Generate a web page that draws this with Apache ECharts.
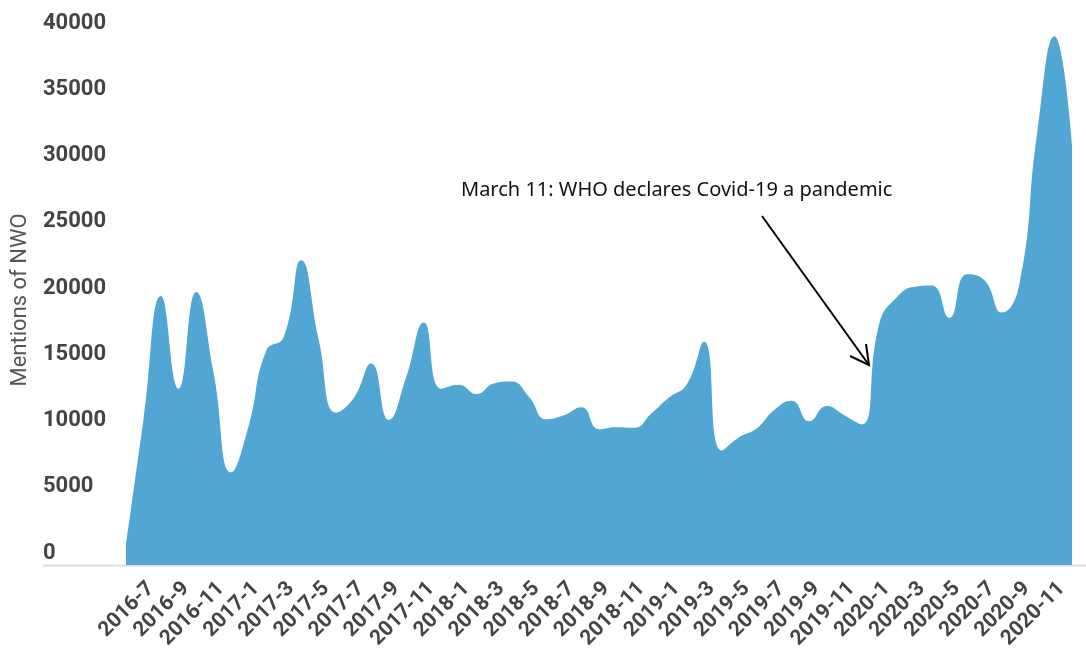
<!DOCTYPE html>
<html>
<head>
<meta charset="utf-8">
<script src="https://cdn.jsdelivr.net/npm/echarts@6/dist/echarts.min.js"></script>
<style>
  html, body { margin: 0; padding: 0; background: #fff; }
  #main { width: 1086px; height: 648px; }
</style>
</head>
<body>
<div id="main"></div>
<script>
// monthly mentions, 2016-6 .. 2020-12
var months = [];
for (var y = 2016; y <= 2020; y++) {
    for (var m = 1; m <= 12; m++) {
        if (y == 2016 && m < 6) continue;
        months.push(y + '-' + m);
    }
}
var mentions = [
    1500, 11000, 20300, 13300, 20600, 14500, 7000,              // 2016-6 .. 2016-12
    10500, 16150, 17200, 23000, 17000, 11500, 12600, 15200,     // 2017-1 .. 2017-8
    10950, 14200, 18300, 13300,                                  // 2017-9 .. 2017-12
    13600, 12900, 13700, 13850, 12700, 11000, 11300, 11900,     // 2018-1 .. 2018-8
    10250, 10400, 10350, 11450,                                  // 2018-9 .. 2018-12
    12650, 13600, 16850, 8650, 9650, 10300, 11700, 12400,       // 2019-1 .. 2019-8
    10850, 12000, 11300, 10600,                                  // 2019-9 .. 2019-12
    18200, 20200, 21000, 21100, 18650, 21950, 21500, 19050,     // 2020-1 .. 2020-8
    21200, 32500, 39900, 31800                                   // 2020-9 .. 2020-12
];
var yTicks = { min: 0, max: 40000, step: 5000 };
var note = 'March 11: WHO declares Covid-19 a pandemic';

var myChart = echarts.init(document.getElementById('main'));

var option = {
    animation: false,
    grid: { left: 126, right: 14, top: 35, bottom: 83, outerBoundsMode: 'none', containLabel: false },
    xAxis: {
        type: 'category',
        data: months,
        boundaryGap: false,
        axisLine: { show: false },
        axisTick: { show: false },
        axisLabel: {
            rotate: 45,
            margin: 13,
            verticalAlign: 'top',
            interval: function (i) { return i % 2 == 1; },
            color: '#444',
            fontFamily: 'Roboto',
            fontWeight: 'bold',
            fontSize: 21
        }
    },
    yAxis: {
        type: 'value',
        min: yTicks.min,
        max: yTicks.max,
        interval: yTicks.step,
        name: 'Mentions of NWO',
        nameLocation: 'middle',
        nameRotate: 90,
        nameGap: 95,
        nameTextStyle: { color: '#555', fontFamily: 'Roboto', fontSize: 22 },
        splitLine: { show: false },
        axisLine: { show: false },
        axisTick: { show: false },
        axisLabel: {
            align: 'left',
            verticalAlign: 'bottom',
            lineHeight: 24,
            margin: 83,
            formatter: function (v) { return String(v); },
            color: '#444',
            fontFamily: 'Roboto',
            fontWeight: 'bold',
            fontSize: 22
        }
    },
    series: [{
        type: 'line',
        data: mentions,
        smooth: true,
        symbol: 'none',
        lineStyle: { width: 0 },
        areaStyle: { color: '#52a6d3', opacity: 1 }
    }],
    graphic: [
        {
            type: 'line', z: -1,
            shape: { x1: 43, y1: 565.5, x2: 1086, y2: 565.5 },
            style: { stroke: '#ddd', lineWidth: 2 }
        },
        {
            type: 'text', left: 461, top: 180,
            style: { text: note, fill: '#111', font: '20px "Noto Sans"' }
        },
        {
            type: 'polyline',
            shape: { points: [[762, 216], [869, 365]] },
            style: { stroke: '#000', lineWidth: 2, fill: null }
        },
        {
            type: 'polyline',
            shape: { points: [[850, 356], [869, 365], [866, 344]] },
            style: { stroke: '#000', lineWidth: 2, fill: null }
        }
    ]
};
myChart.setOption(option);
</script>
</body>
</html>
